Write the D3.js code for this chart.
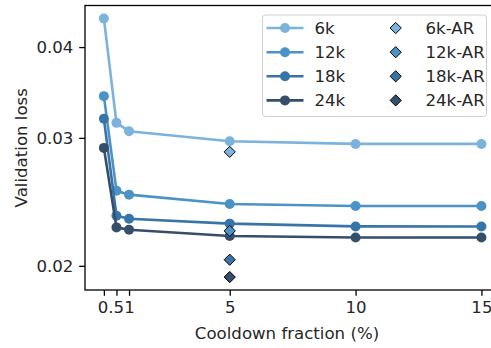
<!DOCTYPE html>
<html>
<head>
<meta charset="utf-8">
<script src="https://cdn.jsdelivr.net/npm/d3@7"></script>
<style>
  body { margin: 0; background: #fff; }
  svg { display: block; font-family: "DejaVu Sans", sans-serif; }
</style>
</head>
<body>
<div id="container"></div>
<script>
// Data
var fracs = [0, 0.5, 1, 5, 10, 15];
var loss6k = [0.0438, 0.03146, 0.03064, 0.02968, 0.02943, 0.02943];
var loss12k = [0.03424, 0.02538, 0.02506, 0.02433, 0.02417, 0.02417];
var loss18k = [0.03187, 0.02344, 0.02322, 0.02286, 0.02266, 0.02265];
var loss24k = [0.02906, 0.02259, 0.02242, 0.02198, 0.02188, 0.02188];
var seriesNames = ["6k", "12k", "18k", "24k"];
var arFrac = 5;
var arLoss = [0.0287, 0.02234, 0.02039, 0.0193];
var arNames = ["6k-AR", "12k-AR", "18k-AR", "24k-AR"];
var xTicks = [0, 0.5, 1, 5, 10, 15];
var xTickLabels = ["", "0.5", "1", "5", "10", "15"];
var yTicks = [0.02, 0.03, 0.04];

var colors = ["#7bb3dc", "#4b93c7", "#3775a9", "#354f6b"];
var FONT = 16.6;

var W = 491, H = 348;
var margin = {left: 85, top: 5.5, right: 500.3, bottom: 290};

var svg = d3.select("#container").append("svg")
    .attr("width", W)
    .attr("height", H);

var allLoss = [loss6k, loss12k, loss18k, loss24k];

// Log scale with matplotlib-like 5% margins
var ymin = d3.min(allLoss.concat([arLoss]), function(a) { return d3.min(a); });
var ymax = d3.max(allLoss.concat([arLoss]), function(a) { return d3.max(a); });
var pad = (Math.log(ymax) - Math.log(ymin)) * 0.05;

var x = d3.scaleLinear().domain([-0.75, 15.75]).range([margin.left, margin.right]);
var y = d3.scaleLog()
    .domain([Math.exp(Math.log(ymin) - pad), Math.exp(Math.log(ymax) + pad)])
    .range([margin.bottom, margin.top]);

// Frame
svg.append("rect")
    .attr("x", margin.left)
    .attr("y", margin.top)
    .attr("width", margin.right - margin.left)
    .attr("height", margin.bottom - margin.top)
    .attr("fill", "none")
    .attr("stroke", "#000")
    .attr("stroke-width", 1.3);

// Axes
var xAxis = svg.append("g")
    .attr("transform", "translate(0," + margin.bottom + ")")
    .call(d3.axisBottom(x)
      .tickValues(xTicks)
      .tickFormat(function(d, i) { return xTickLabels[i]; })
      .tickSize(5.8)
      .tickPadding(5.8));

var yAxis = svg.append("g")
    .attr("transform", "translate(" + margin.left + ",0)")
    .call(d3.axisLeft(y)
      .tickValues(yTicks)
      .tickFormat(d3.format(".2f"))
      .tickSize(5.8)
      .tickPadding(5.8));

[xAxis, yAxis].forEach(function(g) {
  g.select(".domain").remove();
  g.selectAll(".tick line").attr("stroke", "#000").attr("stroke-width", 1.3);
  g.selectAll(".tick text")
    .attr("fill", "#262626")
    .style("font-size", FONT + "px")
    .style("font-family", "DejaVu Sans");
});

// "0.5" label sits a little left of its tick in the original
xAxis.selectAll(".tick text").filter(function(d) { return d === 0.5; })
    .attr("dx", -6);

// Axis titles
svg.append("text")
    .attr("x", (margin.left + 489) / 2)
    .attr("y", 339)
    .attr("text-anchor", "middle")
    .attr("fill", "#262626")
    .style("font-size", FONT + "px")
    .text("Cooldown fraction (%)");

svg.append("text")
    .attr("transform", "translate(26.5," + (margin.top + margin.bottom) / 2 + ") rotate(-90)")
    .attr("text-anchor", "middle")
    .attr("fill", "#262626")
    .style("font-size", FONT + "px")
    .text("Validation loss");

// Lines with circle markers
var line = d3.line()
    .x(function(d, i) { return x(fracs[i]); })
    .y(function(d) { return y(d); });

var plot = svg.append("g");

allLoss.forEach(function(vals, s) {
  plot.append("path")
      .datum(vals)
      .attr("d", line)
      .attr("fill", "none")
      .attr("stroke", colors[s])
      .attr("stroke-width", 2.6)
      .attr("stroke-linejoin", "round");
  plot.selectAll(".pt" + s)
      .data(vals)
      .enter().append("circle")
      .attr("cx", function(d, i) { return x(fracs[i]); })
      .attr("cy", function(d) { return y(d); })
      .attr("r", 5)
      .attr("fill", colors[s]);
});

// Diamond marker (square rotated 45 degrees)
function diamond(r) {
  return "M0," + (-r) + "L" + r + ",0L0," + r + "L" + (-r) + ",0Z";
}

plot.selectAll(".ar")
    .data(arLoss)
    .enter().append("path")
    .attr("d", diamond(5.6))
    .attr("transform", function(d) { return "translate(" + x(arFrac) + "," + y(d) + ")"; })
    .attr("fill", function(d, i) { return colors[i]; })
    .attr("stroke", "#000")
    .attr("stroke-width", 1);

// Legend
var legend = svg.append("g");
legend.append("rect")
    .attr("x", 262.5)
    .attr("y", 15)
    .attr("width", 224)
    .attr("height", 101.5)
    .attr("rx", 3)
    .attr("fill", "#fff")
    .attr("fill-opacity", 0.8)
    .attr("stroke", "#d0d0d0")
    .attr("stroke-width", 1);

var rowY = [28, 52.2, 76.3, 100.4];

seriesNames.forEach(function(name, i) {
  var g = legend.append("g").attr("transform", "translate(0," + rowY[i] + ")");
  g.append("line")
      .attr("x1", 266.5).attr("x2", 303.5)
      .attr("stroke", colors[i])
      .attr("stroke-width", 2.6);
  g.append("circle")
      .attr("cx", 285).attr("r", 5)
      .attr("fill", colors[i]);
  g.append("text")
      .attr("x", 314.5)
      .attr("dy", "0.36em")
      .attr("fill", "#262626")
      .style("font-size", FONT + "px")
      .text(name);
});

arNames.forEach(function(name, i) {
  var g = legend.append("g").attr("transform", "translate(0," + rowY[i] + ")");
  g.append("path")
      .attr("d", diamond(5.6))
      .attr("transform", "translate(395.7,0)")
      .attr("fill", colors[i])
      .attr("stroke", "#000")
      .attr("stroke-width", 1);
  g.append("text")
      .attr("x", 425.5)
      .attr("dy", "0.36em")
      .attr("fill", "#262626")
      .style("font-size", FONT + "px")
      .text(name);
});
</script>
</body>
</html>
